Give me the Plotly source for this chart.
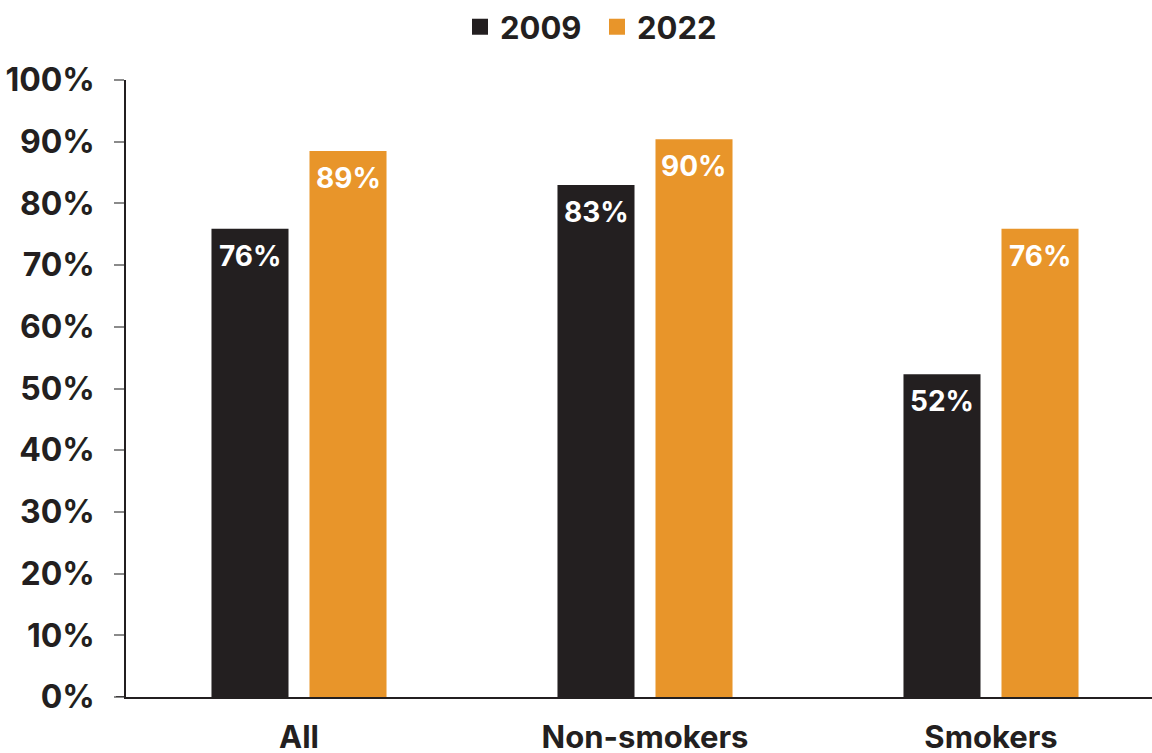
import plotly.graph_objects as go

categories = ["All", "Non-smokers", "Smokers"]
values_2009 = [75.9, 83.0, 52.3]
values_2022 = [88.5, 90.4, 75.9]
labels_2009 = ["76%", "83%", "52%"]
labels_2022 = ["89%", "90%", "76%"]
y_ticks = [0, 10, 20, 30, 40, 50, 60, 70, 80, 90, 100]
y_tick_labels = [f"{v}%" for v in y_ticks]

C2009 = "#231F20"
C2022 = "#E8952A"
TXT = "#231F20"
FONT = "Inter"

fig = go.Figure()
for name, vals, col in [("2009", values_2009, C2009), ("2022", values_2022, C2022)]:
    fig.add_trace(go.Bar(
        x=categories, y=vals, name=name, marker=dict(color=col, line=dict(width=0)),
        showlegend=False, hoverinfo="skip",
    ))
    fig.add_trace(go.Scatter(
        x=[None], y=[None], mode="markers", name=name,
        marker=dict(symbol="square", size=18, color=col, line=dict(width=0)),
        showlegend=True,
    ))

# value labels inside the top of each bar
for labs, vals, shift in [(labels_2009, values_2009, -49), (labels_2022, values_2022, 49)]:
    for cat, v, lab in zip(categories, vals, labs):
        fig.add_annotation(x=cat, y=v, xref="x", yref="y", text=lab, showarrow=False,
                           xshift=shift, yshift=-8, yanchor="top", xanchor="center",
                           font=dict(family=FONT, size=28, color="white", weight="bold"))

plot_w = 1152 - 126
fig.update_layout(
    width=1152, height=753,
    margin=dict(l=126, r=0, t=80, b=56, autoexpand=False),
    paper_bgcolor="white", plot_bgcolor="white",
    barmode="group", bargap=0.4335, bargroupgap=0.214,
    legend=dict(orientation="h", x=(597 - 126) / plot_w, xanchor="center",
                y=1.042, yanchor="bottom",
                font=dict(family=FONT, size=31, color=TXT, weight="bold"),
                itemsizing="trace", traceorder="normal", itemwidth=30,
                entrywidth=92),
    font=dict(family=FONT, color=TXT),
)
fig.update_xaxes(
    range=[-0.5, -0.5 + plot_w / 346.0], showline=True, linecolor=TXT, linewidth=1.5,
    ticks="", showgrid=False, zeroline=False, automargin=False,
    tickfont=dict(family=FONT, size=31, color=TXT, weight="bold"),
    ticklabelstandoff=12,
)
fig.update_yaxes(
    range=[0, 100], tickvals=y_ticks, ticktext=y_tick_labels,
    showline=True, linecolor=TXT, linewidth=1.5,
    ticks="outside", ticklen=10, tickwidth=1.5, tickcolor="#8A8A8A",
    showgrid=False, zeroline=False, automargin=False,
    tickfont=dict(family=FONT, size=32, color=TXT, weight="bold"),
    ticklabelstandoff=13,
)
fig.add_shape(type="line", xref="paper", yref="y", x0=-10 / plot_w, x1=0, y0=0, y1=0,
              line=dict(color=TXT, width=1.5))
fig.write_html("out.html")
